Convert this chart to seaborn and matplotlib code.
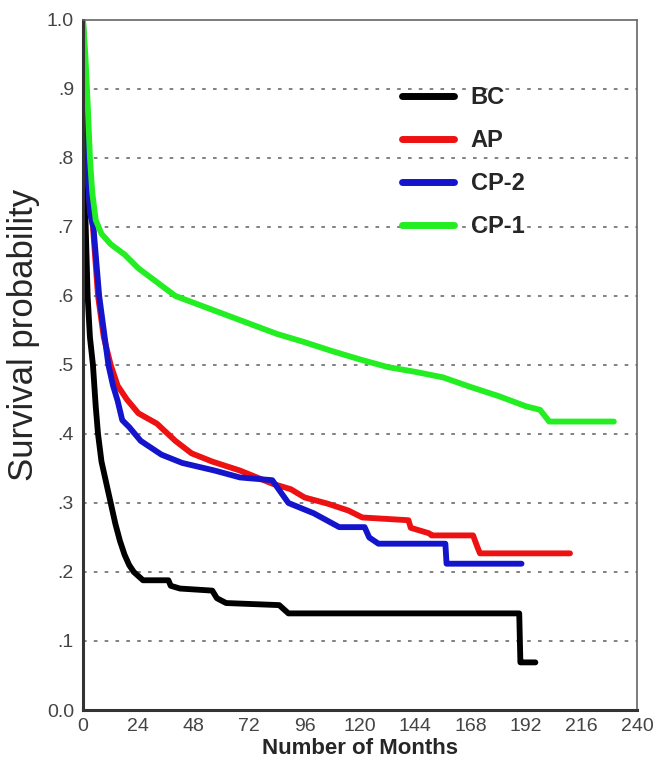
import pandas as pd
import matplotlib
matplotlib.use("Agg")
import matplotlib.pyplot as plt
import seaborn as sns

# Curvas de supervivencia (meses, probabilidad)
bc_months = [0, 0.5, 1, 2, 3, 4.3, 5.5, 6.5, 8, 10, 12, 14, 16, 18, 20, 22, 26, 37, 38, 42, 56, 58, 62, 85, 89, 189, 189.5, 190, 196]
bc_surv = [1.0, 0.85, 0.72, 0.6, 0.54, 0.5, 0.44, 0.40, 0.36, 0.33, 0.30, 0.27, 0.245, 0.225, 0.21, 0.20, 0.188, 0.188, 0.18, 0.176, 0.173, 0.162, 0.155, 0.152, 0.14, 0.14, 0.069, 0.069, 0.069]

ap_months = [0, 1, 2, 3, 4.3, 6.5, 9, 12, 15, 19, 24, 32, 40, 47, 56, 68, 82, 90, 96, 106, 115, 121, 141, 142, 150, 151, 169, 171, 172, 211]
ap_surv = [1.0, 0.85, 0.78, 0.73, 0.70, 0.60, 0.54, 0.50, 0.47, 0.45, 0.43, 0.415, 0.39, 0.372, 0.36, 0.347, 0.328, 0.32, 0.308, 0.299, 0.289, 0.279, 0.275, 0.264, 0.256, 0.253, 0.253, 0.235, 0.227, 0.227]

cp2_months = [0, 1, 2, 3, 4.5, 7, 11, 13, 15, 17, 20, 25, 34, 43, 57, 68, 82, 86, 89, 100, 111, 122, 124, 128, 157, 157.5, 159, 190]
cp2_surv = [1.0, 0.85, 0.78, 0.72, 0.70, 0.60, 0.50, 0.47, 0.448, 0.42, 0.41, 0.39, 0.37, 0.358, 0.347, 0.337, 0.333, 0.314, 0.30, 0.285, 0.265, 0.265, 0.25, 0.241, 0.241, 0.212, 0.212, 0.212]

cp1_months = [0, 1, 2, 3, 4, 5.5, 8, 12, 18, 24, 30, 40, 48, 60, 72, 84, 96, 108, 120, 132, 144, 156, 168, 180, 192, 198, 202, 230]
cp1_surv = [1.0, 0.95, 0.88, 0.80, 0.75, 0.71, 0.69, 0.675, 0.66, 0.64, 0.625, 0.60, 0.59, 0.575, 0.56, 0.545, 0.533, 0.52, 0.508, 0.497, 0.49, 0.482, 0.468, 0.455, 0.44, 0.435, 0.418, 0.418]

groups = ["BC", "AP", "CP-2", "CP-1"]
colores = {"BC": "#000000", "AP": "#ee1111", "CP-2": "#1414cc", "CP-1": "#22ee22"}

x_ticks = [0, 24, 48, 72, 96, 120, 144, 168, 192, 216, 240]
y_ticks = [0.0, 0.1, 0.2, 0.3, 0.4, 0.5, 0.6, 0.7, 0.8, 0.9, 1.0]
y_labels = ["0.0", ".1", ".2", ".3", ".4", ".5", ".6", ".7", ".8", ".9", "1.0"]

# Armar tabla larga
df_list = []
for g, m, s in [("BC", bc_months, bc_surv), ("AP", ap_months, ap_surv),
                ("CP-2", cp2_months, cp2_surv), ("CP-1", cp1_months, cp1_surv)]:
    df_list.append(pd.DataFrame({"meses": m, "supervivencia": s, "grupo": g}))
df = pd.concat(df_list, ignore_index=True)

sns.set_style("white")
plt.rcParams["font.family"] = ["Liberation Sans", "DejaVu Sans"]

fig = plt.figure(figsize=(6.61, 7.78), dpi=100)
ax = fig.add_axes([0.1256, 0.0874, 0.838, 0.887])

# Líneas de referencia punteadas
for yv in y_ticks[1:-1]:
    ax.axhline(yv, color="#777777", linewidth=1.3, linestyle=(0, (2, 4)), zorder=0)

sns.lineplot(data=df, x="meses", y="supervivencia", hue="grupo", hue_order=groups,
             palette=colores, estimator=None, sort=False,
             linewidth=4.2, ax=ax)

ax.set_xlim(0, 240)
ax.set_ylim(0, 1.0)
ax.set_xticks(x_ticks)
ax.set_yticks(y_ticks)
ax.set_yticklabels(y_labels)
ax.tick_params(axis="both", labelsize=14, labelcolor="#444444", direction="inout",
               length=5, width=2, color="#222222")
ax.tick_params(axis="y", pad=4)

ax.set_xlabel("Number of Months", fontsize=16, fontweight="bold", labelpad=2)
ax.set_ylabel("Survival probability", fontsize=25)
ax.yaxis.set_label_coords(-0.078, 0.543)

for lado in ["left", "bottom"]:
    ax.spines[lado].set_color("#333333")
    ax.spines[lado].set_linewidth(2.2)
for lado in ["top", "right"]:
    ax.spines[lado].set_color("#666666")
    ax.spines[lado].set_linewidth(1.2)

leg = ax.legend(loc="upper left", bbox_to_anchor=(0.538, 0.935), frameon=False,
                prop={"weight": "bold", "size": 17}, handlelength=2.2,
                handletextpad=0.7, labelspacing=0.85)
for h in leg.get_lines():
    h.set_linewidth(5)

fig.savefig("out.png", dpi=100, facecolor="white")
